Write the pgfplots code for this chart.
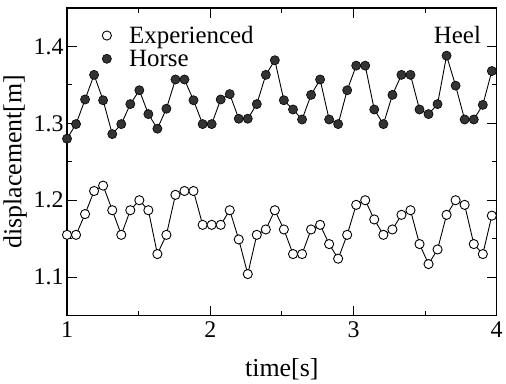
\documentclass[border=0pt]{standalone}
\usepackage{fontspec}
\setmainfont{Liberation Serif}
\usepackage{pgfplots}
\usepackage{pgfplotstable}
\pgfplotsset{compat=1.18}
\definecolor{horsefill}{HTML}{333333}
\pgfplotstableread{
t v
1.000 1.155
1.063 1.155
1.126 1.182
1.189 1.212
1.252 1.219
1.316 1.187
1.379 1.155
1.442 1.187
1.505 1.200
1.568 1.187
1.631 1.130
1.694 1.155
1.757 1.207
1.820 1.212
1.883 1.212
1.947 1.168
2.010 1.168
2.073 1.168
2.136 1.187
2.199 1.149
2.262 1.104
2.325 1.155
2.388 1.162
2.451 1.187
2.514 1.162
2.578 1.130
2.641 1.130
2.704 1.162
2.767 1.168
2.830 1.143
2.893 1.124
2.956 1.155
3.019 1.194
3.082 1.200
3.145 1.175
3.209 1.155
3.272 1.162
3.335 1.181
3.398 1.187
3.461 1.143
3.524 1.117
3.587 1.136
3.650 1.181
3.713 1.200
3.776 1.194
3.840 1.143
3.903 1.130
3.966 1.180
}\experienced
\pgfplotstableread{
t v
1.000 1.280
1.063 1.299
1.126 1.331
1.189 1.363
1.252 1.330
1.316 1.286
1.379 1.299
1.442 1.325
1.505 1.343
1.568 1.312
1.631 1.293
1.694 1.319
1.757 1.357
1.820 1.357
1.883 1.330
1.947 1.299
2.010 1.299
2.073 1.331
2.136 1.338
2.199 1.306
2.262 1.306
2.325 1.325
2.388 1.363
2.451 1.382
2.514 1.330
2.578 1.318
2.641 1.305
2.704 1.337
2.767 1.357
2.830 1.305
2.893 1.299
2.956 1.343
3.019 1.375
3.082 1.375
3.145 1.318
3.209 1.299
3.272 1.337
3.335 1.363
3.398 1.363
3.461 1.318
3.524 1.312
3.587 1.325
3.650 1.388
3.713 1.349
3.776 1.305
3.840 1.305
3.903 1.324
3.966 1.368
}\horse
\begin{document}
\begin{tikzpicture}
\begin{axis}[
  scale only axis, width=431.6pt, height=309pt,
  xmin=1, xmax=4, ymin=1.05, ymax=1.45,
  xtick={1,2,3,4}, minor xtick={1.5,2.5,3.5},
  ytick={1.1,1.2,1.3,1.4}, minor ytick={1.15,1.25,1.35},
  tick align=inside, major tick length=10pt, minor tick length=5pt,
  tick style={black, line width=1pt},
  axis line style={line width=1.4pt},
  /pgf/number format/assume math mode=true,
  yticklabel style={/pgf/number format/.cd, fixed, fixed zerofill, precision=1},
  xticklabel style={yshift=-3pt},
  ticklabel style={font=\fontsize{24}{28}\selectfont},
  label style={font=\fontsize{26}{30}\selectfont},
  xlabel={time[s]}, ylabel={displacement[m]},
  xlabel style={yshift=-14pt},
  ylabel style={yshift=0pt},
  legend style={draw=none, fill=none, at={(0.075,0.948)}, anchor=north west,
    font=\fontsize{25}{29}\selectfont, row sep=1pt, inner sep=0pt,
    nodes={inner xsep=3pt, inner ysep=2pt}},
  legend cell align=left,
  legend image code/.code={\path (0pt,0pt) (26pt,0pt); \draw[#1] plot coordinates {(7pt,0pt)};},
  clip=false,
]
\addplot[black, line width=0.9pt, mark=*, mark size=4.6pt,
  mark options={fill=white, draw=black, line width=0.9pt}] table[x=t,y=v] {\experienced};
\addlegendentry{Experienced}
\addplot[black, line width=0.9pt, mark=*, mark size=4.6pt,
  mark options={fill=horsefill, draw=black, line width=0.6pt}] table[x=t,y=v] {\horse};
\addlegendentry{Horse}
\node[font=\fontsize{25}{29}\selectfont] at (axis cs:3.726,1.415) {Heel};
\path (rel axis cs:1,1) ++(7.7pt,8pt);
\end{axis}
\end{tikzpicture}
\end{document}
